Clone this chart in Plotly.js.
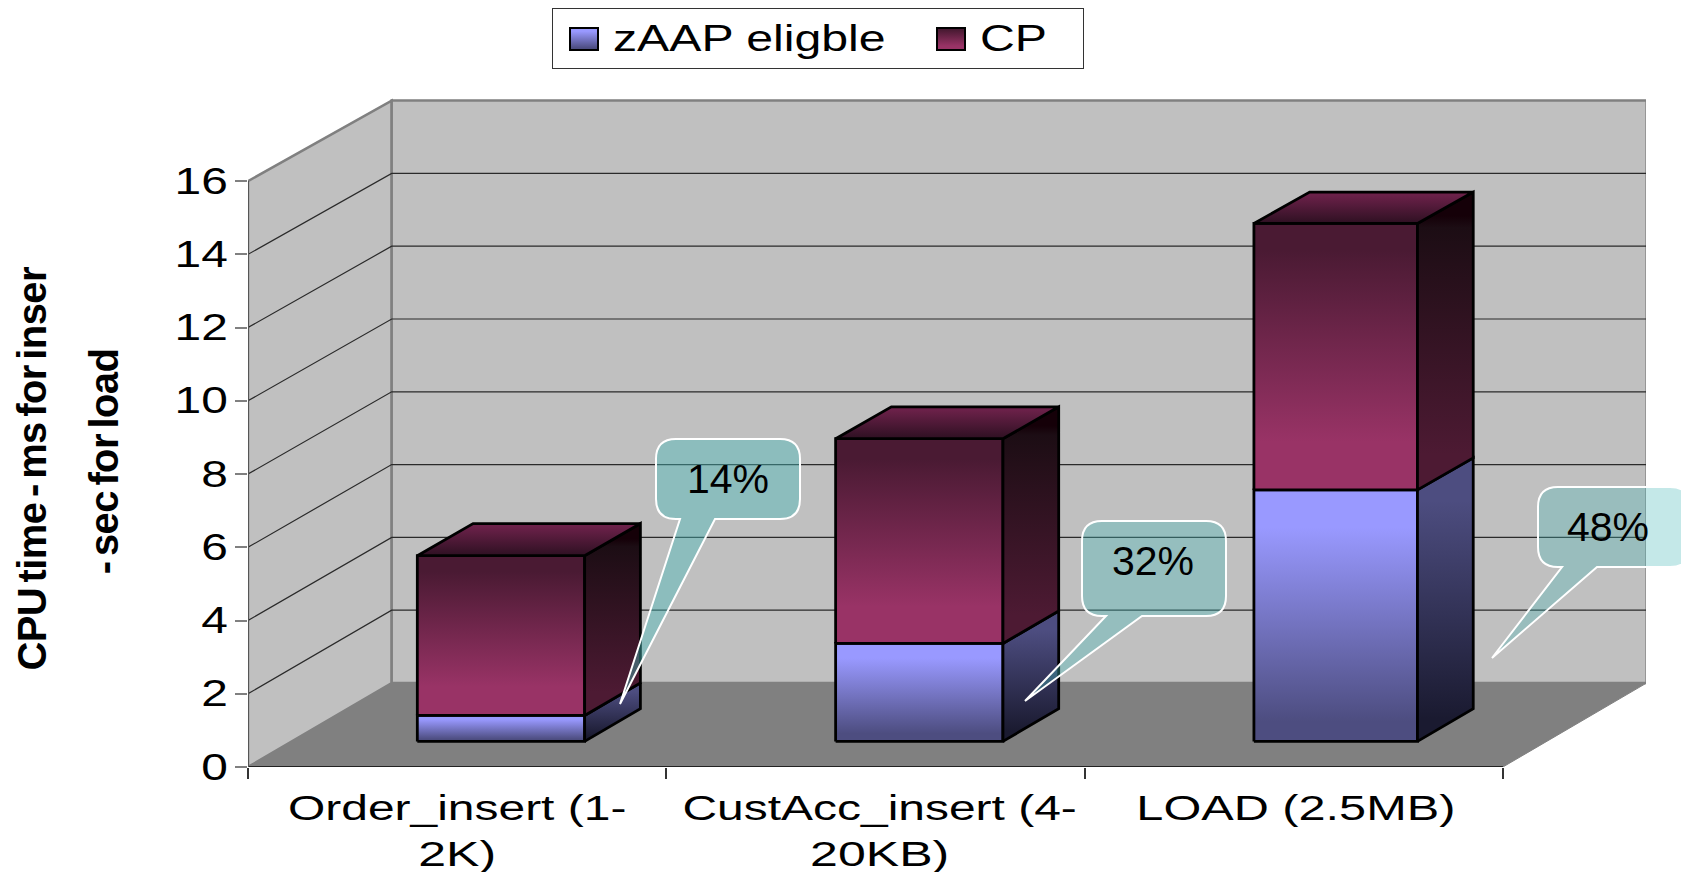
<!DOCTYPE html>
<html>
<head>
<meta charset="utf-8">
<script src="https://cdn.plot.ly/plotly-3.0.1.min.js"></script>
<style>
html,body{margin:0;padding:0;background:#fff;overflow:hidden}
#chart{width:1681px;height:872px}
</style>
</head>
<body>
<div id="chart"></div>
<script>
// Workload CPU split: stacked columns with a fake 3-D box look.
const categories = ["Order_insert (1-<br>2K)", "CustAcc_insert (4-<br>20KB)", "LOAD (2.5MB)"];
const zaapEligible = [0.71, 2.68, 6.88];
const cpOnly = [4.37, 5.60, 7.29];
const shareLabels = ["14%", "32%", "48%"];
const yTicks = [0, 2, 4, 6, 8, 10, 12, 14, 16];

// Page-pixel geometry of the plotting box.
const L = 248, R = 1646, B = 767, T = 90;
const W = R - L, H = B - T;
const catPx = 418.3, unitPx = 36.62;
const depthDx = 143.7, depthDy = 84, backShrink = 0.994;
const xMax = W / catPx, yMax = H / unitPx;

// Oblique projection: category units + value + depth (0 front .. 1 back) to axis coordinates.
const px = (c, d) => c + d * depthDx / catPx;
const py = (v, d) => v * (1 - d * (1 - backShrink)) + d * depthDy / unitPx;
const quad = pts => ({x: pts.map(p => px(p[0], p[2])).concat(px(pts[0][0], pts[0][2])),
                      y: pts.map(p => py(p[1], p[2])).concat(py(pts[0][1], pts[0][2]))});

const traces = [];
function face(pts, fillcolor, lineColor, lineWidth) {
  traces.push(Object.assign(quad(pts), {type: 'scatter', mode: 'lines', fill: 'toself', fillcolor,
    line: {color: lineColor, width: lineWidth}, hoverinfo: 'skip', showlegend: false}));
}
function gradFace(pts, stops, name) {
  const ys = pts.map(p => py(p[1], p[2]));
  traces.push(Object.assign(quad(pts), {type: 'scatter', mode: 'lines', fill: 'toself',
    fillgradient: {type: 'vertical', colorscale: stops, start: Math.min(...ys), stop: Math.max(...ys)},
    line: {color: '#000', width: 2.8}, hoverinfo: 'skip', name: name || '', showlegend: !!name}));
}

// Walls and floor
face([[0,0,0],[0,16,0],[0,16,1],[0,0,1]], '#c0c0c0', '#808080', 2.5);
face([[0,0,1],[0,16,1],[3,16,1],[3,0,1]], '#c0c0c0', '#808080', 2.5);
face([[0,0,0],[0,0,1],[3,0,1],[3,0,0]], '#808080', '#808080', 1);

// Gridlines running along the side wall and the back wall
yTicks.filter(v => v > 0 && v < 16).forEach(v => {
  const q = quad([[0,v,0],[0,v,1],[3,v,1]]);
  traces.push({type: 'scatter', mode: 'lines', x: q.x.slice(0,3), y: q.y.slice(0,3),
    line: {color: '#2a2a2a', width: 1.2}, hoverinfo: 'skip', showlegend: false});
});

const barFrontDepth = 0.305, barBackDepth = 0.693, barHalf = 0.2;
const zFront = [[0,'#4d4d80'],[0.08,'#4d4d80'],[0.85,'#9999ff'],[1,'#9999ff']];
const zSide  = [[0,'#1a1a30'],[0.08,'#1a1a30'],[0.85,'#4d4d80'],[1,'#4d4d80']];
const cFront = [[0,'#993366'],[0.18,'#993366'],[0.9,'#4a1a33'],[1,'#4a1a33']];
const cSide  = [[0,'#4d1a33'],[0.12,'#4d1a33'],[0.88,'#1c0d14'],[0.92,'#150008'],[1,'#150008']];
const cTop   = [[0,'#2e1022'],[0.9,'#6b2149'],[1,'#6b2149']];

categories.forEach((_, i) => {
  const c0 = i + 0.5 - barHalf, c1 = i + 0.5 + barHalf - (i === 2 ? 0.009 : 0);
  const f = barFrontDepth, b = barBackDepth;
  const split = zaapEligible[i], total = split + cpOnly[i];
  gradFace([[c0,0,f],[c1,0,f],[c1,split,f],[c0,split,f]], zFront, i === 0 ? 'zAAP eligble' : '');
  gradFace([[c1,0,f],[c1,0,b],[c1,split,b],[c1,split,f]], zSide);
  gradFace([[c0,split,f],[c1,split,f],[c1,total,f],[c0,total,f]], cFront, i === 0 ? 'CP' : '');
  gradFace([[c1,split,f],[c1,split,b],[c1,total,b],[c1,total,f]], cSide);
  gradFace([[c0,total,f],[c1,total,f],[c1,total,b],[c0,total,b]], cTop);
});

// Callout bubbles, in page pixels
const fx = p => (p - L) / W, fy = p => (B - p) / H;
function bubble(x0, y0, x1, y1, tail0, tipX, tipY, tail1, r, alpha) {
  const P = (x, y) => fx(x) + ',' + fy(y);
  const d = 'M' + P(x0 + r, y0) + ' L' + P(x1 - r, y0) + ' Q' + P(x1, y0) + ' ' + P(x1, y0 + r) +
    ' L' + P(x1, y1 - r) + ' Q' + P(x1, y1) + ' ' + P(x1 - r, y1) + ' L' + P(tail1, y1) +
    ' L' + P(tipX, tipY) + ' L' + P(tail0, y1) + ' L' + P(x0 + r, y1) + ' Q' + P(x0, y1) + ' ' + P(x0, y1 - r) +
    ' L' + P(x0, y0 + r) + ' Q' + P(x0, y0) + ' ' + P(x0 + r, y0) + ' Z';
  return {type: 'path', path: d, xref: 'paper', yref: 'paper', layer: 'above',
          fillcolor: 'rgba(73,185,185,' + alpha + ')', line: {color: '#fff', width: 2}};
}
const bubbles = [
  bubble(656, 439, 800, 519, 680, 620, 704, 715, 20, 0.44),
  bubble(1082, 521, 1226, 616, 1106, 1025, 701, 1142, 20, 0.36),
  bubble(1538, 487, 1690, 567, 1562, 1492, 658, 1597, 20, 0.32)
];
const shareCentres = [[728, 479], [1153, 561], [1608, 527]];

const annotations = shareLabels.map((t, i) => ({
  text: t, xref: 'paper', yref: 'paper', x: fx(shareCentres[i][0]), y: fy(shareCentres[i][1]),
  showarrow: false, xanchor: 'center', yanchor: 'middle',
  font: {family: 'Liberation Sans', size: 41, color: '#000'}
}));
const axisTitleLines = [['CPU time - ms for inser', 32, 469], ['- sec for load', 104, 462]];
axisTitleLines.forEach(a => annotations.push({
  text: a[0], xref: 'paper', yref: 'paper', x: fx(a[1]), y: fy(a[2]), textangle: -90,
  showarrow: false, xanchor: 'center', yanchor: 'middle',
  font: {family: 'Liberation Sans', size: 40, color: '#000', weight: 700}
}));

const layout = {
  width: 1681, height: 872, paper_bgcolor: '#fff', plot_bgcolor: 'rgba(0,0,0,0)',
  margin: {l: L, r: 1681 - R, t: T, b: 872 - B, pad: 0, autoexpand: false},
  showlegend: true,
  legend: {orientation: 'h', x: fx(799), xanchor: 'center', y: fy(8), yanchor: 'top',
           bgcolor: '#fff', bordercolor: '#333', borderwidth: 1, itemclick: false, itemdoubleclick: false,
           font: {family: 'Liberation Sans', size: 36, color: '#000'}},
  xaxis: {range: [0, xMax], tickmode: 'array', tickvals: [0.5, 1.51, 2.505], ticktext: categories,
          ticks: '', showgrid: false, zeroline: false, showline: false, fixedrange: true, tickangle: 0,
          automargin: false, ticklabelstandoff: 17,
          tickfont: {family: 'Liberation Sans', size: 35, color: '#000'},
          minor: {tickvals: [0, 1, 2, 3], ticks: 'outside', ticklen: 11, tickcolor: '#333', tickwidth: 1.5, showgrid: false}},
  yaxis: {range: [0, yMax], tickmode: 'array', tickvals: yTicks, ticks: 'outside', ticklen: 12, tickcolor: '#808080',
          tickwidth: 1.5, showgrid: false, zeroline: false, showline: false, fixedrange: true, automargin: false,
          tickfont: {family: 'Liberation Sans', size: 36, color: '#000'}},
  shapes: [
    ...bubbles,
    {type: 'line', xref: 'x', yref: 'y', x0: 0, x1: 3, y0: 0, y1: 0, line: {color: '#222', width: 2}, layer: 'above'},
    {type: 'line', xref: 'x', yref: 'y', x0: 0, x1: 0, y0: 0, y1: 16, line: {color: '#555', width: 2}, layer: 'above'}
  ],
  annotations
};

// The labels in this drawing are set wider than the font's natural width.
function widen(el, factor) {
  const len = el.getComputedTextLength();
  el.setAttribute('textLength', len * factor);
  el.setAttribute('lengthAdjust', 'spacingAndGlyphs');
}

Plotly.newPlot('chart', traces, layout, {displayModeBar: false}).then(gd => {
  gd.querySelectorAll('.xtick text').forEach(t => {
    const lines = t.querySelectorAll('tspan.line');
    if (lines.length) lines.forEach((l, k) => widen(l, k === 0 ? 1.37 : 1.43));
    else widen(t, 1.39);
  });
  gd.querySelectorAll('.ytick text').forEach(t => widen(t, 1.33));

  // The two axis-title lines are tightly tracked.
  gd.querySelectorAll('.annotation-text').forEach(t => {
    if (axisTitleLines.some(a => a[0] === t.textContent)) {
      t.style.letterSpacing = '-0.6px';
      t.style.wordSpacing = '-5px';
    }
  });

  // Resize the legend box and keys to the chart's proportions.
  const leg = gd.querySelector('.legend');
  leg.setAttribute('transform', 'translate(552,8)');
  const bg = leg.querySelector('rect.bg');
  bg.setAttribute('width', 531); bg.setAttribute('height', 60);
  const box = leg.querySelector('.scrollbox');
  box.removeAttribute('clip-path');
  box.style.clipPath = 'none';
  box.setAttribute('transform', 'translate(0,0)');
  const xs = [13, 380];
  leg.querySelectorAll('.traces').forEach((it, i) => {
    it.setAttribute('transform', 'translate(' + xs[i] + ',32)');
    const rectD = 'M5,-12h28v22h-28z';
    const fill = it.querySelector('.js-fill');
    if (fill) fill.setAttribute('d', rectD);
    const ln = it.querySelector('.js-line');
    if (ln) { ln.setAttribute('d', rectD); ln.style.fill = 'none'; ln.style.strokeWidth = '2px'; }
    const tx = it.querySelector('.legendtext');
    tx.setAttribute('x', 48);
    tx.setAttribute('y', 11);
    widen(tx, 1.34);
  });
});
</script>
</body>
</html>
